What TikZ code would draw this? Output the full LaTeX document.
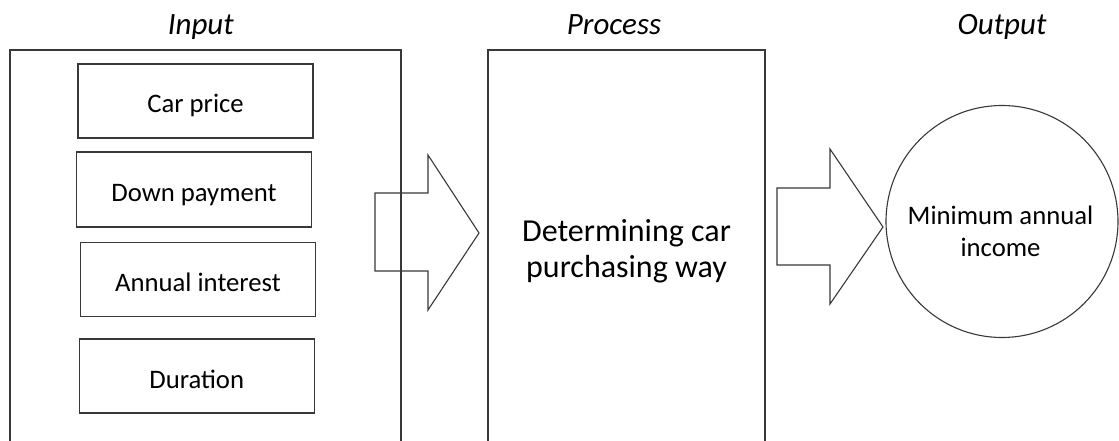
\documentclass[tikz,border=0pt]{standalone}
\usepackage{fontspec}
\setmainfont{Carlito}
\begin{document}
\begin{tikzpicture}[x=1pt,y=-1pt,
  line/.style={draw=black!78, line width=1.1pt, line join=miter},
  inbox/.style={line, rectangle, minimum width=235pt, minimum height=74pt, inner sep=0pt,
    text height=24pt, text depth=0pt, font=\fontsize{26.7}{32}\selectfont},
  title/.style={anchor=base, inner sep=0pt, font=\fontsize{31}{37}\selectfont\itshape},
  ptext/.style={align=center, inner sep=0pt, font=\fontsize{32}{36}\selectfont},
  otext/.style={align=center, inner sep=0pt, font=\fontsize{26.7}{31.7}\selectfont},
  outcirc/.style={line, circle, minimum size=232pt, inner sep=0pt}
]
\useasboundingbox (0,0) rectangle (1119,441);
% titles
\node[title] (tin)  at (200.8,34.3) {Input};
\node[title] (tpro) at (614,34.3) {Process};
\node[title] (tout) at (1002,34.3) {Output};
% frames
\draw[line] (10,446) -- (10,50) -- (401,50) -- (401,446);
\draw[line] (488,446) -- (488,50) -- (765,50) -- (765,446);
% input boxes
\node[inbox] (price)    at (195.5,101)   {Car price};
\node[inbox, minimum height=75pt] (down) at (194,189.5) {Down payment};
\node[inbox] (interest) at (198,279.3)   {Annual interest};
\node[inbox] (duration) at (196.7,376)   {Duration};
% process text
\node[ptext] (ptxt) at (626.5,251) {Determining car\\purchasing way};
% block arrows
\draw[line] (375,193) -- (428,193) -- (428,155) -- (479,233) -- (428,310) -- (428,271) -- (375,271) -- cycle;
\draw[line] (777,188) -- (830,188) -- (830,149) -- (883,227) -- (830,304) -- (830,265) -- (777,265) -- cycle;
% output circle
\node[outcirc] (out) at (1002,221.5) {};
\node[otext] (otxt) at (1000.5,231) {Minimum annual\\income};
\end{tikzpicture}
\end{document}
